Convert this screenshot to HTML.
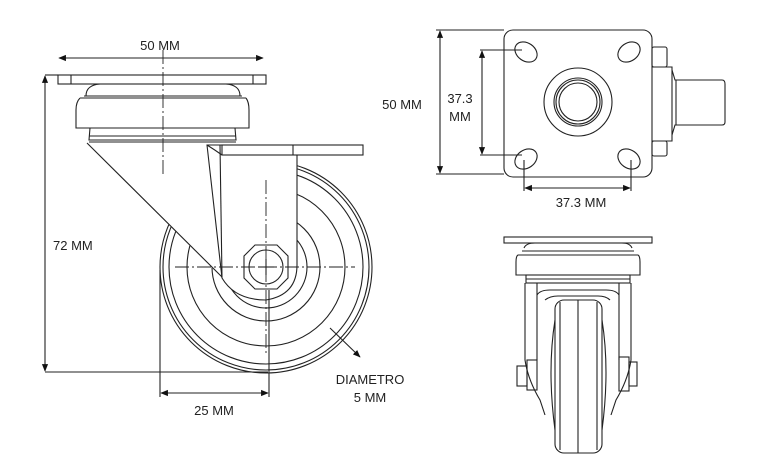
<!DOCTYPE html>
<html><head><meta charset="utf-8"><style>
html,body{margin:0;padding:0;background:#fff;width:766px;height:476px;overflow:hidden}
svg{display:block}
text{font-family:"Liberation Sans",sans-serif;font-size:13px;fill:#222}
</style></head><body>
<svg width="766" height="476" viewBox="0 0 766 476" xmlns="http://www.w3.org/2000/svg">
<defs>
<marker id="a" viewBox="0 0 10 10" refX="9" refY="5" markerWidth="7" markerHeight="7" orient="auto-start-reverse"><path d="M0,1 L10,5 L0,9 z" fill="#111"/></marker>
</defs>
<g fill="none" stroke="#222" stroke-width="1.1">
<!-- LEFT VIEW -->
<line x1="59" y1="58" x2="263" y2="58" marker-start="url(#a)" marker-end="url(#a)"/>
<rect x="58" y="75" width="208" height="9" fill="#fff"/>
<line x1="71" y1="75" x2="71" y2="84"/><line x1="253" y1="75" x2="253" y2="84"/>
<path d="M86,96 Q86,85 100,84 L226,84 Q240,85 240,96"/>
<line x1="84" y1="96" x2="242" y2="96"/><line x1="80" y1="98" x2="246" y2="98"/>
<path d="M80,98 Q76,102 76,110 L76,128 L249,128 L249,110 Q249,102 246,98"/>
<path d="M90,128 L89,140 L236,140 L235,128"/>
<line x1="89" y1="136" x2="236" y2="136"/><line x1="89" y1="142" x2="236" y2="142"/>
<circle cx="266" cy="267" r="106"/>
<circle cx="266" cy="267" r="103"/>
<circle cx="266" cy="267" r="97"/>
<circle cx="266" cy="267" r="79"/>
<circle cx="266" cy="267" r="54"/>
<circle cx="266" cy="267" r="41"/>
<polygon points="87,143 210,143 222,278" fill="#fff" stroke="none"/>
<line x1="87" y1="143" x2="223" y2="278"/>
<path d="M207,145 L222,278 Q235,300 266,300 Q297,295 297,265 L297,145 Z" fill="#fff"/>
<line x1="220" y1="145" x2="222" y2="278"/>
<rect x="222" y="145" width="141" height="10" fill="#fff"/>
<line x1="293" y1="145" x2="293" y2="155"/>
<path d="M207,145 Q215,150 222,155"/>
<polygon points="244,256 255,245 277,245 288,256 288,278 277,289 255,289 244,278" fill="#fff"/>
<circle cx="266" cy="267" r="17" fill="#fff"/>
<line x1="258" y1="267" x2="274" y2="267"/><line x1="266" y1="259" x2="266" y2="275"/>
<g stroke-dasharray="14,3,2,3" stroke-width="0.9">
<line x1="163" y1="50" x2="163" y2="175"/>
<line x1="175" y1="267" x2="355" y2="267"/>
<line x1="266" y1="180" x2="266" y2="355"/>
</g>
<line x1="45" y1="75" x2="58" y2="75"/>
<line x1="45" y1="76" x2="45" y2="371" marker-start="url(#a)" marker-end="url(#a)"/>
<line x1="45" y1="372" x2="268" y2="372"/>
<line x1="160" y1="270" x2="160" y2="397"/>
<line x1="269" y1="290" x2="269" y2="397"/>
<line x1="161" y1="393" x2="268" y2="393" marker-start="url(#a)" marker-end="url(#a)"/>
<line x1="330" y1="328" x2="360" y2="357" marker-end="url(#a)"/>
<!-- TOP RIGHT VIEW -->
<rect x="504" y="30" width="148" height="147" rx="9"/>
<g transform="translate(526,52) rotate(35)"><ellipse rx="12" ry="9"/></g>
<g transform="translate(629,52) rotate(-35)"><ellipse rx="12" ry="9"/></g>
<g transform="translate(526,159) rotate(-35)"><ellipse rx="12" ry="9"/></g>
<g transform="translate(629,159) rotate(35)"><ellipse rx="12" ry="9"/></g>
<circle cx="578" cy="102" r="34"/>
<circle cx="578" cy="102" r="24"/>
<circle cx="578" cy="102" r="22"/>
<circle cx="578" cy="102" r="19"/>
<rect x="652" y="47" width="15" height="20" rx="2"/>
<rect x="652" y="141" width="15" height="15" rx="2"/>
<path d="M652,67 L672,67 L672,141 L652,141"/>
<path d="M672,70 L675,80 L722,80 Q725,80 725,84 L725,122 Q725,125 722,125 L675,125 L672,135"/>
<line x1="676" y1="80" x2="676" y2="125"/>
<line x1="436" y1="30" x2="504" y2="30"/><line x1="436" y1="174" x2="504" y2="174"/>
<line x1="440" y1="31" x2="440" y2="173" marker-start="url(#a)" marker-end="url(#a)"/>
<line x1="480" y1="50" x2="522" y2="50"/><line x1="480" y1="155" x2="522" y2="155"/>
<line x1="482" y1="51" x2="482" y2="154" marker-start="url(#a)" marker-end="url(#a)"/>
<line x1="524" y1="160" x2="524" y2="191"/><line x1="631" y1="160" x2="631" y2="191"/>
<line x1="525" y1="188" x2="630" y2="188" marker-start="url(#a)" marker-end="url(#a)"/>
<!-- BOTTOM RIGHT VIEW -->
<rect x="504" y="237" width="148" height="6" fill="#fff"/>
<path d="M524,248 Q526,243 535,243 L622,243 Q630,243 632,248"/>
<line x1="522" y1="251" x2="634" y2="251"/>
<path d="M518,255 Q516,256 516,262 L516,275 L640,275 L640,262 Q640,256 638,255 Z"/>
<rect x="526" y="275" width="104" height="8"/>
<line x1="526" y1="279" x2="630" y2="279"/>
<path d="M525,283 L525,360 Q528,380 540,400 L545,415 M631,283 L631,360 Q628,380 616,400 L611,415"/>
<path d="M537,283 L537,360 M619,283 L619,360"/>
<path d="M537,295 Q540,290 550,290 L606,290 Q616,290 619,295"/>
<path d="M545,300 Q550,296 558,296 L598,296 Q606,296 610,300"/>
<rect x="555" y="300" width="47" height="153" rx="9"/>
<line x1="578" y1="300" x2="578" y2="453"/>
<line x1="560" y1="302" x2="560" y2="450"/><line x1="597" y1="302" x2="597" y2="450"/>
<path d="M555,320 Q547,370 555,430 M602,320 Q610,370 602,430"/>
<rect x="527" y="360" width="10" height="30"/>
<rect x="517" y="366" width="10" height="20"/>
<rect x="619" y="357" width="10" height="34"/>
<rect x="629" y="362" width="8" height="24"/>
</g>
<text x="160" y="50" text-anchor="middle">50 MM</text>
<text x="53" y="250">72 MM</text>
<text x="214" y="415" text-anchor="middle">25 MM</text>
<text x="370" y="384" text-anchor="middle">DIAMETRO</text>
<text x="370" y="402" text-anchor="middle">5 MM</text>
<text x="402" y="109" text-anchor="middle">50 MM</text>
<text x="460" y="103" text-anchor="middle">37.3</text>
<text x="460" y="121" text-anchor="middle">MM</text>
<text x="581" y="207" text-anchor="middle">37.3 MM</text>
</svg>
</body></html>
